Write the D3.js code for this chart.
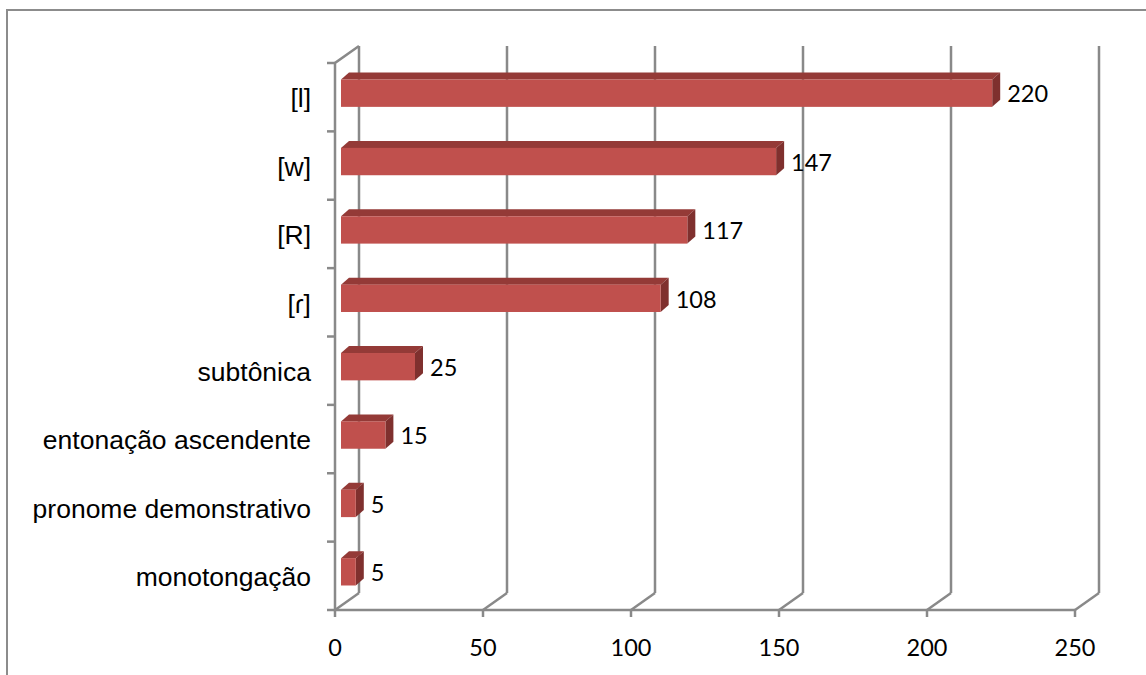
<!DOCTYPE html>
<html>
<head>
<meta charset="utf-8">
<script src="https://cdn.jsdelivr.net/npm/d3@7"></script>
<style>
  body { margin: 0; background: #fff; }
  svg { display: block; }
</style>
</head>
<body>
<svg id="chart" width="1146" height="675"></svg>
<script>
const categories = ["[l]", "[w]", "[R]", "[ɾ]", "subtônica", "entonação ascendente", "pronome demonstrativo", "monotongação"];
const values = [220, 147, 117, 108, 25, 15, 5, 5];
const xTicks = [0, 50, 100, 150, 200, 250];

const svg = d3.select("#chart");
const gridColor = "#898989";

// chart frame, runs off the right and bottom edge
svg.append("rect")
    .attr("x", 7).attr("y", 10)
    .attr("width", 1160).attr("height", 700)
    .attr("fill", "none")
    .attr("stroke", "#8c8c8c")
    .attr("stroke-width", 2);

const x = d3.scaleLinear().domain([0, 250]).range([335, 1075]);
const y = d3.scaleBand().domain(categories).range([63, 610]);

// 3d offsets: wall depth, bar front position, bar depth
const wall = { dx: 24, dy: -17 };
const barFront = { dx: 6, dy: -4 };
const barDepth = { dx: 8, dy: -7 };

const grid = svg.append("g")
    .attr("stroke", gridColor)
    .attr("stroke-width", 2.5)
    .attr("fill", "none");

// back wall gridlines
grid.selectAll(".vgrid")
    .data(xTicks)
    .join("line")
    .attr("class", "vgrid")
    .attr("x1", d => x(d) + wall.dx).attr("x2", d => x(d) + wall.dx)
    .attr("y1", y.range()[0] + wall.dy).attr("y2", y.range()[1] + wall.dy);

// floor diagonals
grid.selectAll(".fdiag")
    .data(xTicks)
    .join("line")
    .attr("class", "fdiag")
    .attr("x1", d => x(d)).attr("y1", y.range()[1])
    .attr("x2", d => x(d) + wall.dx).attr("y2", y.range()[1] + wall.dy);

// left wall: front edge and top diagonal
grid.append("path")
    .attr("d", `M${x(0) + wall.dx},${y.range()[0] + wall.dy}L${x(0)},${y.range()[0]}L${x(0)},${y.range()[1]}L${x(250)},${y.range()[1]}`);

// x axis ticks
grid.selectAll(".xtick")
    .data(xTicks)
    .join("line")
    .attr("class", "xtick")
    .attr("x1", d => x(d)).attr("x2", d => x(d))
    .attr("y1", y.range()[1]).attr("y2", y.range()[1] + 7);

// y axis ticks at band boundaries
const yTicks = categories.map(c => y(c)).concat([y.range()[1]]);
grid.selectAll(".ytick")
    .data(yTicks)
    .join("line")
    .attr("class", "ytick")
    .attr("x1", x(0) - 8).attr("x2", x(0))
    .attr("y1", d => d).attr("y2", d => d);

// bars
const barH = y.bandwidth() * 0.4;
const bars = svg.append("g")
    .selectAll("g")
    .data(categories.map((c, i) => ({ cat: c, value: values[i] })))
    .join("g");

function front(d) {
    return {
        x0: x(0) + barFront.dx,
        x1: x(d.value) + barFront.dx,
        y0: y(d.cat) + y.bandwidth() / 2 - barH / 2 + barFront.dy,
        y1: y(d.cat) + y.bandwidth() / 2 + barH / 2 + barFront.dy
    };
}

bars.append("path")
    .attr("fill", "#943a37")
    .attr("d", d => {
        const f = front(d);
        return `M${f.x0},${f.y0}L${f.x1},${f.y0}L${f.x1 + barDepth.dx},${f.y0 + barDepth.dy}L${f.x0 + barDepth.dx},${f.y0 + barDepth.dy}Z`;
    });

bars.append("path")
    .attr("fill", "#7f302e")
    .attr("d", d => {
        const f = front(d);
        return `M${f.x1},${f.y0}L${f.x1 + barDepth.dx},${f.y0 + barDepth.dy}L${f.x1 + barDepth.dx},${f.y1 + barDepth.dy}L${f.x1},${f.y1}Z`;
    });

bars.append("rect")
    .attr("fill", "#c0504d")
    .attr("x", d => front(d).x0)
    .attr("y", d => front(d).y0)
    .attr("width", d => front(d).x1 - front(d).x0)
    .attr("height", barH);

// value labels
bars.append("text")
    .attr("x", d => front(d).x1 + barDepth.dx + 7)
    .attr("y", d => (front(d).y0 + front(d).y1) / 2 + 1)
    .attr("dy", "0.35em")
    .attr("font-family", "Lato, 'Open Sans', sans-serif")
    .attr("font-size", 23.5)
    .attr("fill", "#000")
    .text(d => d.value);

// category labels
svg.append("g")
    .selectAll("text")
    .data(categories)
    .join("text")
    .attr("x", 311)
    .attr("y", d => y(d) + y.bandwidth() / 2 + 1)
    .attr("dy", "0.35em")
    .attr("text-anchor", "end")
    .attr("font-family", "'Liberation Sans', Arial, sans-serif")
    .attr("font-size", 26.5)
    .attr("fill", "#000")
    .text(d => d);

// x tick labels
svg.append("g")
    .selectAll("text")
    .data(xTicks)
    .join("text")
    .attr("x", d => x(d))
    .attr("y", 648)
    .attr("dy", "0.35em")
    .attr("text-anchor", "middle")
    .attr("font-family", "Lato, 'Open Sans', sans-serif")
    .attr("font-size", 23.5)
    .attr("fill", "#000")
    .text(d => d);
</script>
</body>
</html>
